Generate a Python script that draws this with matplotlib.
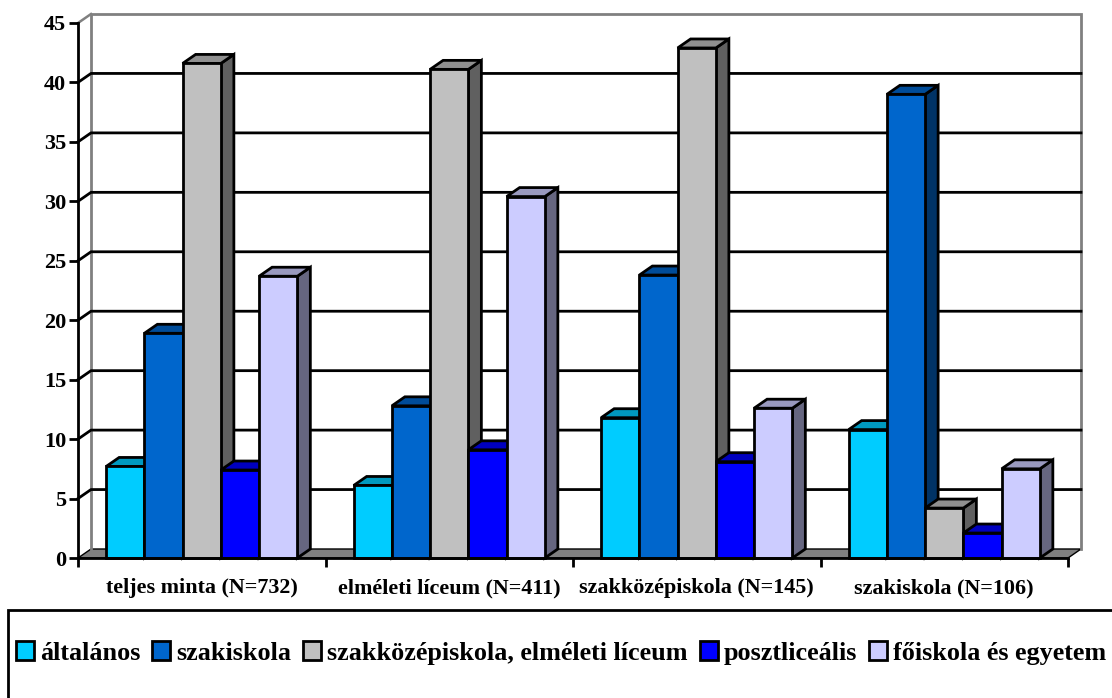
import numpy as np
import matplotlib
matplotlib.use('Agg')
import matplotlib.pyplot as plt
from matplotlib.patches import Polygon, Rectangle

plt.rcParams['font.family'] = ['Liberation Serif']
plt.rcParams['font.weight'] = 'bold'

categories = ['teljes minta (N=732)', 'elméleti líceum (N=411)',
              'szakközépiskola (N=145)', 'szakiskola (N=106)']
series_names = ['általános', 'szakiskola', 'szakközépiskola, elméleti líceum',
                'posztliceális', 'főiskola és egyetem']
altalanos = [7.7, 6.1, 11.8, 10.8]
szakiskola = [18.9, 12.8, 23.8, 39.0]
szakkozep = [41.6, 41.1, 42.9, 4.2]
poszt = [7.4, 9.1, 8.1, 2.1]
foiskola = [23.7, 30.4, 12.6, 7.5]
series = [altalanos, szakiskola, szakkozep, poszt, foiskola]

front = ['#00CCFF', '#0066CC', '#C0C0C0', '#0000FF', '#CCCCFF']
top = ['#0099BF', '#004C99', '#909090', '#0000BF', '#9999BF']
side = ['#006680', '#003366', '#606060', '#000080', '#666680']

W, H = 1112, 698
fig = plt.figure(figsize=(W / 100, H / 100), dpi=100)
ax = fig.add_axes([78 / W, 1 - 558 / H, 990 / W, 535 / H])
ax.set_xlim(0, 4)
ax.set_ylim(0, 45)
ax.patch.set_visible(False)

dx = 13 / 247.5
dy = 9 / 11.89
lw = 2.0
bar_w = 0.1545
yticks = np.arange(0, 50, 5)

# walls and floor
ax.add_patch(Polygon([(0, 0), (dx, dy), (4 + dx, dy), (4, 0)], closed=True, fc='#808080',
                     ec='black', lw=1.0, clip_on=False, zorder=1))
ax.plot([dx, dx, 4 + dx, 4 + dx], [dy, 45 + dy, 45 + dy, dy], color='#808080', lw=2.0,
        clip_on=False, zorder=1, solid_joinstyle='miter')
ax.plot([0, dx], [45, 45 + dy], color='#808080', lw=1.8, clip_on=False, zorder=1)
for v in yticks[1:-1]:
    ax.plot([0, dx, 4 + dx], [v, v + dy, v + dy], color='black', lw=2.0, clip_on=False, zorder=2)

# bars, drawn left to right so each covers the side of the previous one
z = 3
for c in range(len(categories)):
    start = c + 0.5 - 2.5 * bar_w
    for s, vals in enumerate(series):
        v = vals[c]
        x0 = start + s * bar_w
        x1 = x0 + bar_w
        ax.add_patch(Polygon([(x1, 0), (x1 + dx, dy), (x1 + dx, v + dy), (x1, v)], closed=True,
                             fc=side[s], ec='black', lw=lw, clip_on=False, zorder=z))
        ax.add_patch(Polygon([(x0, v), (x0 + dx, v + dy), (x1 + dx, v + dy), (x1, v)], closed=True,
                             fc=top[s], ec='black', lw=lw, clip_on=False, zorder=z))
        ax.add_patch(Rectangle((x0, 0), bar_w, v, fc=front[s], ec='black', lw=lw,
                               clip_on=False, zorder=z))
        z += 1

for name in ['top', 'right']:
    ax.spines[name].set_visible(False)
for name in ['left', 'bottom']:
    ax.spines[name].set_linewidth(2.0)
    ax.spines[name].set_zorder(100)

ax.set_yticks(yticks)
ax.set_xticks(np.arange(0, 5))
ax.set_xticklabels([])
ax.set_xticks(np.arange(4) + 0.5, categories, minor=True)
ax.tick_params(axis='x', which='major', length=6.5, width=2.0)
ax.tick_params(axis='x', which='minor', length=0, labelsize=15.9, pad=14.5)
ax.tick_params(axis='y', length=6.5, width=2.0, labelsize=16, pad=2)

# legend box runs off the right and bottom edge
fig.add_artist(Rectangle((8 / W, 1 - 720 / H), 1200 / W, 110 / H, transform=fig.transFigure,
                         fc='white', ec='black', lw=2.0))
handles = [Rectangle((0, 0), 1, 1, fc=front[i], ec='black', lw=2.0) for i in range(5)]
leg = fig.legend(handles, series_names, loc='center left', bbox_to_anchor=(16 / W, 1 - 653 / H),
                 ncol=5, frameon=False, fontsize=18.8, handlelength=0.69, handleheight=0.69,
                 handletextpad=0.23, columnspacing=0.46, borderpad=0, borderaxespad=0)

fig.savefig('out.png', dpi=100)
